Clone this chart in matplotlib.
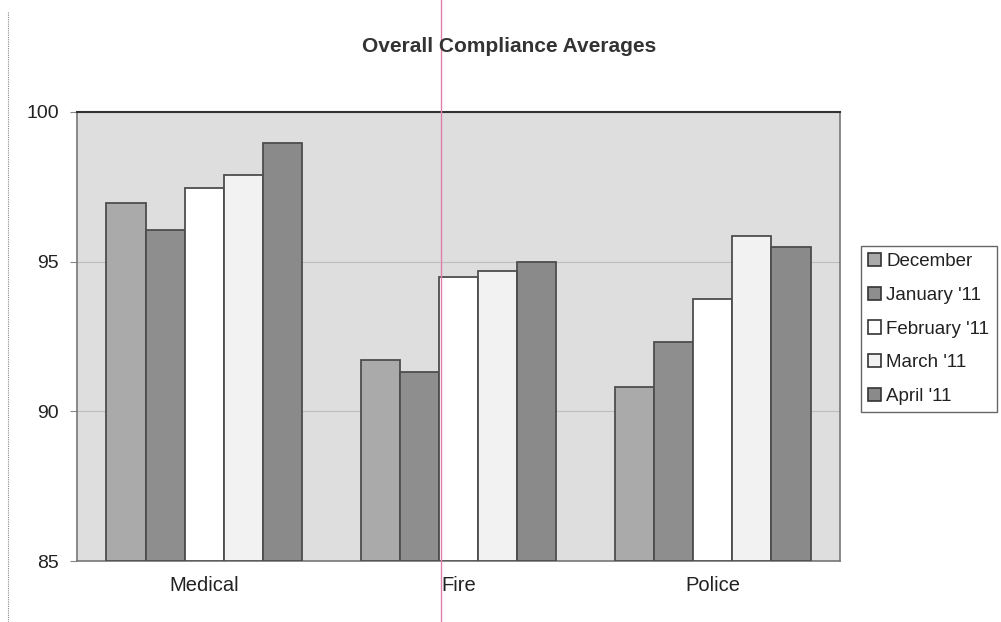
import matplotlib.pyplot as plt
import numpy as np
from matplotlib.lines import Line2D

plt.rcParams['font.family'] = ['Liberation Sans', 'DejaVu Sans']

# Data
categories = ["Medical", "Fire", "Police"]
series_names = ["December", "January '11", "February '11", "March '11", "April '11"]
december = [96.95, 91.7, 90.8]
january = [96.05, 91.3, 92.3]
february = [97.45, 94.5, 93.75]
march = [97.9, 94.7, 95.85]
april = [98.95, 95.0, 95.5]
series_values = [december, january, february, march, april]
yticks = [85, 90, 95, 100]

colors = ["#aaaaaa", "#8e8e8e", "#ffffff", "#f2f2f2", "#8a8a8a"]
edge = "#4d4d4d"

fig = plt.figure(figsize=(10.01, 6.22), dpi=100)
ax = fig.add_axes([0.077, 0.098, 0.762, 0.722])
ax.set_facecolor("#dedede")

x = np.arange(len(categories))
bar_w = 1 / 6.5
for i, (name, vals) in enumerate(zip(series_names, series_values)):
    offs = (i - 2) * bar_w
    ax.bar(x + offs, np.array(vals) - 85, bottom=85, width=bar_w,
           color=colors[i], edgecolor=edge, linewidth=1.3, label=name, zorder=3)

ax.set_xlim(-0.5, 2.5)
ax.set_ylim(85, 100)
ax.set_yticks(yticks)
ax.set_yticklabels([str(t) for t in yticks], fontsize=14, color="#222222")
ax.set_xticks(x)
ax.set_xticklabels(categories, fontsize=14.5, color="#222222")
ax.tick_params(axis="x", length=0, pad=11)
ax.tick_params(axis="y", length=5, color="#888888", pad=8)
ax.yaxis.grid(True, color="#bdbdbd", linewidth=0.8, zorder=0)

for side in ["left", "right", "bottom"]:
    ax.spines[side].set_color("#777777")
    ax.spines[side].set_linewidth(1.2)
ax.spines["top"].set_color("#333333")
ax.spines["top"].set_linewidth(1.5)

fig.text(0.509, 0.926, "Overall Compliance Averages", ha="center", va="center",
         fontsize=15, fontweight="bold", color="#333333")

handles = [plt.Rectangle((0, 0), 1, 1, facecolor=c, edgecolor="#333333", linewidth=1.2)
           for c in colors]
leg = fig.legend(handles, series_names, loc="upper left",
                 bbox_to_anchor=(0.860, 0.605), borderaxespad=0, fontsize=13.5,
                 handlelength=0.7, handleheight=0.7, handletextpad=0.25,
                 labelspacing=0.88, borderpad=0.4, fancybox=False,
                 framealpha=1, edgecolor="#666666")
leg.get_frame().set_linewidth(1.0)
for t in leg.get_texts():
    t.set_color("#222222")

# scan artifacts: page border and pink marker line
fig.add_artist(Line2D([0.008, 0.008], [0.0, 0.98], transform=fig.transFigure,
                      color="#888888", linewidth=0.8, linestyle=(0, (1, 1))))
fig.add_artist(Line2D([0.441, 0.441], [0.0, 1.0], transform=fig.transFigure,
                      color="#e080a8", linewidth=1.0))

fig.savefig("out.png", dpi=100)
